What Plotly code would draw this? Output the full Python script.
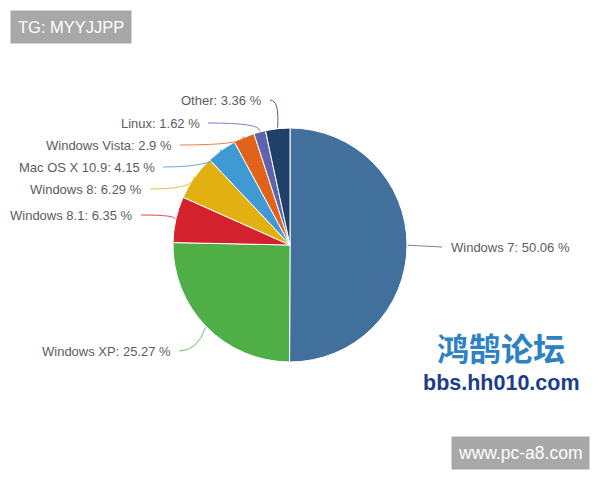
import plotly.graph_objects as go
import math

labels = ["Windows 7", "Windows XP", "Windows 8.1", "Windows 8", "Mac OS X 10.9",
          "Windows Vista", "Linux", "Other"]
values = [50.06, 25.27, 6.35, 6.29, 4.15, 2.9, 1.62, 3.36]
colors = ["#41709d", "#4fae45", "#d3222e", "#e2b010", "#3f9ad3", "#e0621b", "#5f63ae", "#1f4068"]

# label text anchor per slice (page px) - layout only
label_pos = {
    "Windows 7": (449, 247, "left"),
    "Windows XP": (173, 351, "right"),
    "Windows 8.1": (135, 215, "right"),
    "Windows 8": (144, 189, "right"),
    "Mac OS X 10.9": (157, 167, "right"),
    "Windows Vista": (174, 145, "right"),
    "Linux": (202, 123, "right"),
    "Other": (264, 100, "right"),
}

OFF = 8  # page body margin
W, H = 592, 472
cx, cy, r = 290, 245, 117

def px(x, y):
    return (x - OFF) / W, 1 - (y - OFF) / H

d0 = px(cx - r, cy + r)
d1 = px(cx + r, cy - r)
fig = go.Figure(go.Pie(
    labels=labels, values=values, sort=False, direction="clockwise", rotation=0,
    marker=dict(colors=colors, line=dict(color="white", width=1)),
    textinfo="none", hoverinfo="label+percent", showlegend=False,
    domain=dict(x=[d0[0], d1[0]], y=[d0[1], d1[1]]),
))

LF = dict(family="Liberation Sans, Arial", size=13, color="#5c5c5c")
total = sum(values)
cum = 0.0
shapes, annotations = [], []
for lab, val, col in zip(labels, values, colors):
    mid = (cum + val / 2) / total * 2 * math.pi
    cum += val
    ex = cx + (r + 1) * math.sin(mid)
    ey = cy - (r + 1) * math.cos(mid)
    lx, ly, side = label_pos[lab]
    txt = f"{lab}: {val} %"
    if side == "left":
        p0 = px(ex, ey); p1 = px(lx - 7, ly)
        shapes.append(dict(type="path", xref="paper", yref="paper",
                           path=f"M {p0[0]} {p0[1]} L {p1[0]} {p1[1]}",
                           line=dict(color="#6f86a0", width=1)))
        a = px(lx, ly)
        annotations.append(dict(x=a[0], y=a[1], xref="paper", yref="paper", text=txt, showarrow=False,
                                xanchor="left", yanchor="middle", font=LF))
    else:
        sx, sy = lx + 6, ly
        qx, qy = ex + (2 if ex < cx else 0), ly
        if lab == "Windows XP":
            qx, qy = ex - 8, ly
        p0 = px(sx, sy); pq = px(qx, qy); p1 = px(ex, ey)
        shapes.append(dict(type="path", xref="paper", yref="paper",
                           path=f"M {p0[0]} {p0[1]} Q {pq[0]} {pq[1]} {p1[0]} {p1[1]}",
                           line=dict(color=col, width=1), opacity=0.8))
        a = px(lx, ly)
        annotations.append(dict(x=a[0], y=a[1], xref="paper", yref="paper", text=txt, showarrow=False,
                                xanchor="right", yanchor="middle", font=LF))

# watermark boxes
a = px(10, 10)
annotations.append(dict(x=a[0], y=a[1], xref="paper", yref="paper", text="TG: MYYJJPP",
                        showarrow=False, xanchor="left", yanchor="top", bgcolor="#a8a8a8",
                        borderpad=7, font=dict(family="Liberation Sans, Arial", size=16.5, color="white")))
a = px(590, 470)
annotations.append(dict(x=a[0], y=a[1], xref="paper", yref="paper", text="www.pc-a8.com",
                        showarrow=False, xanchor="right", yanchor="bottom", bgcolor="#a8a8a8",
                        borderpad=6, font=dict(family="Liberation Sans, Arial", size=17.5, color="white")))
a = px(501, 347)
annotations.append(dict(x=a[0], y=a[1], xref="paper", yref="paper", text="<b>鸿鹄论坛</b>",
                        showarrow=False, xanchor="center", yanchor="middle", borderpad=0,
                        font=dict(family="Noto Sans CJK SC", size=32, color="#2c82c2")))
a = px(501, 383)
annotations.append(dict(x=a[0], y=a[1], xref="paper", yref="paper", text="<b>bbs.hh010.com</b>",
                        showarrow=False, xanchor="center", yanchor="middle", borderpad=0,
                        font=dict(family="Liberation Sans, Arial", size=21.5, color="#1b3d8c")))

fig.update_layout(width=W, height=H, margin=dict(l=0, r=0, t=0, b=0),
                  paper_bgcolor="white", plot_bgcolor="white",
                  shapes=shapes, annotations=annotations)
fig.write_html("out.html")
